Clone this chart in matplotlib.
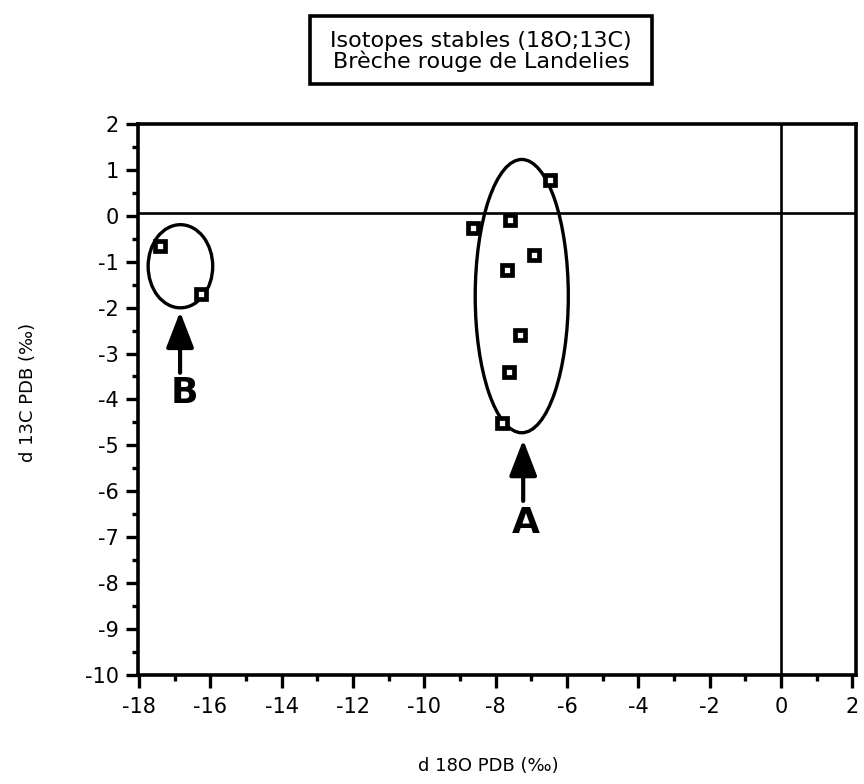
import matplotlib
matplotlib.use("Agg")
import matplotlib.pyplot as plt
from matplotlib.patches import Ellipse, Rectangle
from matplotlib.ticker import MultipleLocator

plt.rcParams['font.family'] = ['DejaVu Sans']

# Data (d18O, d13C)
d18O = [-17.41, -16.27, -6.48, -7.6, -8.63, -6.94, -7.67, -7.32, -7.62, -7.83]
d13C = [-0.65, -1.70, 0.78, -0.09, -0.27, -0.85, -1.18, -2.59, -3.41, -4.52]

# Group ellipses: center x, center y, width, height
groups = ["A", "B"]
ell_cx = [-7.27, -16.84]
ell_cy = [-1.75, -1.10]
ell_w = [2.61, 1.81]
ell_h = [5.95, 1.81]
arrow_x = [-7.23, -16.85]
arrow_tip = [-4.88, -2.09]
arrow_tail = [-6.21, -3.42]
label_x = [-7.15, -16.74]
label_y = [-6.68, -3.86]

xticks = list(range(-18, 3, 2))
yticks = list(range(-10, 3, 1))

fig = plt.figure(figsize=(8.64, 7.84), dpi=100)
ax = fig.add_axes([0.1597, 0.139, 0.8310, 0.703])
ax.set_xlim(-18.03, 2.1)
ax.set_ylim(-10, 2)

ax.axhline(0.06, color='black', lw=1.9, zorder=1)
ax.axvline(0, color='black', lw=1.9, zorder=1)

ax.plot(d18O, d13C, linestyle='none', marker='s', markersize=7.5,
        markerfacecolor='white', markeredgecolor='black', markeredgewidth=3.4, zorder=3)

for g, cx, cy, w, h, axx, tip, tail, lx, ly in zip(groups, ell_cx, ell_cy, ell_w, ell_h,
                                                   arrow_x, arrow_tip, arrow_tail,
                                                   label_x, label_y):
    ax.add_patch(Ellipse((cx, cy), w, h, fill=False, edgecolor='black', lw=2.4, zorder=2))
    ax.annotate('', xy=(axx, tip), xytext=(axx, tail),
                arrowprops=dict(arrowstyle='-|>,head_width=0.85,head_length=2.2',
                                color='black', lw=3, shrinkA=0, shrinkB=0))
    ax.text(lx, ly, g, ha='center', va='center', fontsize=26, fontweight='bold')

ax.set_xticks(xticks)
ax.set_xticklabels([str(t) for t in xticks])
ax.set_yticks(yticks)
ax.set_yticklabels([str(t) for t in yticks])
ax.xaxis.set_minor_locator(MultipleLocator(1))
ax.yaxis.set_minor_locator(MultipleLocator(0.5))
ax.tick_params(which='major', direction='out', length=9, width=2.4, labelsize=15, pad=7)
ax.tick_params(which='minor', direction='out', length=4.5, width=2.4)
ax.tick_params(axis='y', pad=5)
for s in ax.spines.values():
    s.set_linewidth(2.6)

fig.text(0.565, 0.012, 'd 18O PDB (‰)', ha='center', va='bottom', fontsize=13)
fig.text(0.032, 0.50, 'd 13C PDB (‰)', ha='center', va='center', rotation=90, fontsize=13)

# title box
fig.patches.append(Rectangle((0.3588, 0.893), 0.396, 0.087, transform=fig.transFigure,
                             fill=False, edgecolor='black', lw=2.6))
fig.text(0.557, 0.934, 'Isotopes stables (18O;13C)\nBrèche rouge de Landelies',
         ha='center', va='center', fontsize=16, linespacing=1.0)

fig.savefig('out.png', dpi=100)
